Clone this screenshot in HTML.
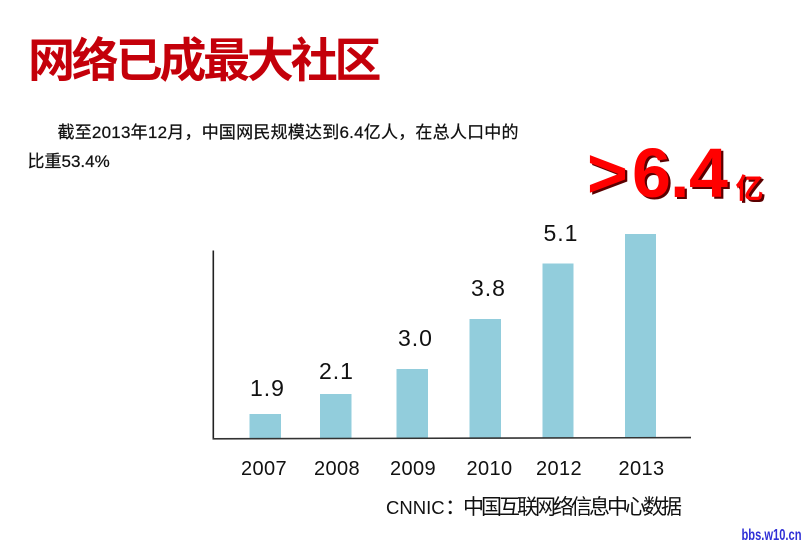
<!DOCTYPE html>
<html>
<head>
<meta charset="utf-8">
<style>
  html,body{margin:0;padding:0;background:#fff;}
  body{width:807px;height:546px;overflow:hidden;}
  svg{display:block;}
</style>
</head>
<body>
<svg width="807" height="546" viewBox="0 0 807 546" xmlns="http://www.w3.org/2000/svg">
  <rect x="0" y="0" width="807" height="546" fill="#ffffff"/>

  <!-- Title -->
  <text x="28" y="77" font-family="'Noto Sans CJK SC', 'WenQuanYi Zen Hei', sans-serif" font-weight="700" font-size="47" letter-spacing="-3.5" fill="#c4000a" textLength="350" lengthAdjust="spacing">网络已成最大社区</text>

  <!-- Paragraph -->
  <text x="57.5" y="138" font-family="'Liberation Sans', 'Noto Sans CJK SC', sans-serif" font-size="17" fill="#111" stroke="#111" stroke-width="0.25" textLength="461" lengthAdjust="spacing">截至2013年12月，中国网民规模达到6.4亿人，在总人口中的</text>
  <text x="27.5" y="167" font-family="'Liberation Sans', 'Noto Sans CJK SC', sans-serif" font-size="17" fill="#111" stroke="#111" stroke-width="0.25">比重53.4%</text>

  <!-- >6.4亿 shadow -->
  <g fill="#5a0000" transform="translate(2.2,2.2)">
    <text x="587" y="197" font-family="'Liberation Sans', sans-serif" font-weight="700" font-size="70">&gt;</text>
    <text x="632" y="197" font-family="'Liberation Sans', sans-serif" font-weight="700" font-size="70">6</text>
    <text x="670" y="197" font-family="'Liberation Sans', sans-serif" font-weight="700" font-size="70">.</text>
    <text x="689" y="197" font-family="'Liberation Sans', sans-serif" font-weight="700" font-size="70">4</text>
    <text x="735.5" y="198" font-family="'Noto Sans CJK SC', sans-serif" font-weight="700" font-size="28">亿</text>
  </g>
  <g fill="#ff0000">
    <text x="587" y="197" font-family="'Liberation Sans', sans-serif" font-weight="700" font-size="70">&gt;</text>
    <text x="632" y="197" font-family="'Liberation Sans', sans-serif" font-weight="700" font-size="70">6</text>
    <text x="670" y="197" font-family="'Liberation Sans', sans-serif" font-weight="700" font-size="70">.</text>
    <text x="689" y="197" font-family="'Liberation Sans', sans-serif" font-weight="700" font-size="70">4</text>
    <text x="735.5" y="198" font-family="'Noto Sans CJK SC', sans-serif" font-weight="700" font-size="28">亿</text>
  </g>

  <!-- Bars -->
  <g fill="#92cddc">
    <rect x="249.5" y="414" width="31.5" height="24.5"/>
    <rect x="320" y="394" width="31.5" height="44.5"/>
    <rect x="396.5" y="369" width="31.5" height="69.5"/>
    <rect x="469.5" y="319" width="31.5" height="119.5"/>
    <rect x="542.5" y="263.5" width="31" height="175"/>
    <rect x="625" y="234" width="31" height="204.5"/>
  </g>

  <!-- Axes -->
  <line x1="213.3" y1="250.5" x2="213.3" y2="439" stroke="#222" stroke-width="1.6"/>
  <line x1="212.5" y1="438.8" x2="691" y2="437.6" stroke="#333" stroke-width="1.6"/>

  <!-- Value labels -->
  <g font-family="'Liberation Sans', sans-serif" font-size="23" fill="#111" text-anchor="middle" letter-spacing="1">
    <text x="267.5" y="396">1.9</text>
    <text x="336.5" y="379">2.1</text>
    <text x="415.5" y="346">3.0</text>
    <text x="488.5" y="296">3.8</text>
    <text x="561" y="241">5.1</text>
  </g>

  <!-- Year labels -->
  <g font-family="'Liberation Sans', sans-serif" font-size="20" fill="#111" text-anchor="middle" letter-spacing="0.4">
    <text x="264" y="475">2007</text>
    <text x="337" y="475">2008</text>
    <text x="413" y="475">2009</text>
    <text x="489.5" y="475">2010</text>
    <text x="559" y="475">2012</text>
    <text x="641.5" y="475">2013</text>
  </g>

  <!-- Source -->
  <text x="386" y="514" fill="#111"><tspan font-family="'Liberation Sans', sans-serif" font-size="18.5">CNNIC</tspan><tspan font-family="'Noto Sans CJK SC', sans-serif" font-size="21" x="445">：</tspan><tspan font-family="'Noto Sans CJK SC', sans-serif" font-size="21" x="463" textLength="219" lengthAdjust="spacing">中国互联网络信息中心数据</tspan></text>

  <!-- Watermark -->
  <text x="741.5" y="540" font-family="'Liberation Sans', sans-serif" font-weight="700" font-size="16" fill="#2f2fd6" textLength="60" lengthAdjust="spacingAndGlyphs">bbs.w10.cn</text>
</svg>
</body>
</html>
